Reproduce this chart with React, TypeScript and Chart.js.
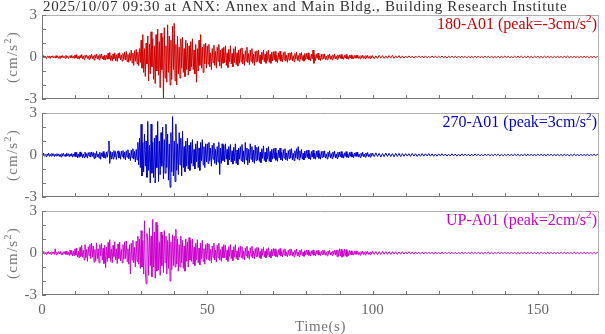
import React, { useEffect, useRef } from "react";
import { Chart, registerables } from "chart.js";
Chart.register(...registerables);

// sampling: first 100 s at 0.25 s, remainder at 0.5 s
const DT_MAIN = 0.25;
const T_TAIL = 100;
const DT_TAIL = 0.5;
const X_MAX = 168.5;
const Y_MIN = -3;
const Y_MAX = 3;
const Y_TICK_LABELS = [-3, 0, 3];
const X_TICK_LABELS = [0, 50, 100, 150];
const TITLE = "2025/10/07 09:30 at ANX: Annex and Main Bldg., Building Research Institute";
const X_TITLE = "Time(s)";
const CHANNELS = ["180-A01", "270-A01", "UP-A01"];
const PEAKS = [-3, 3, 2];
const COLORS = ["rgb(210,0,0)", "rgb(0,0,205)", "rgb(205,0,205)"];

// 180-A01, 0–100 s
const ACC_180_MAIN = [
  0.04,-0.07,0.1,-0.03,0.06,-0.09,0.02,0.07,-0.05,0.08,-0.1,0.05,-0.02,0.09,-0.06,0.03,-0.08,0.1,-0.04,0.06,
  -0.09,0.05,-0.12,0.08,-0.03,0.11,-0.07,0.04,-0.1,0.12,-0.05,0.07,-0.11,0.03,0.09,-0.06,0.12,-0.08,0.05,-0.1,
  0.14,-0.08,0.17,-0.12,0.06,-0.16,0.1,-0.05,0.18,-0.13,0.08,-0.17,0.12,-0.04,0.15,-0.1,0.07,-0.18,0.13,-0.09,
  0.2,-0.12,0.08,-0.22,0.16,-0.07,0.21,-0.15,0.1,-0.2,0.18,-0.09,0.22,-0.14,0.06,-0.19,0.15,-0.22,0.11,-0.16,
  0.28,-0.15,0.32,-0.24,0.1,-0.3,0.22,-0.12,0.3,-0.27,0.16,-0.32,0.25,-0.08,0.31,-0.2,0.14,-0.29,0.26,-0.18,
  0.35,-0.22,0.4,-0.33,0.18,-0.38,0.3,-0.25,0.5,-0.42,0.28,-0.6,0.45,-0.3,0.55,-0.48,0.35,-0.62,0.6,-0.4,
  1.2,-0.8,1.6,-1.1,0.6,-1.4,1.0,-0.5,1.5,-1.7,0.9,-1.2,1.8,-0.7,1.3,-1.6,0.8,-1.9,1.6,-1.0,
  2.0,-1.3,1.1,-2.2,1.7,-0.9,1.4,-3.0,2.1,-1.5,0.8,-1.8,2.3,-1.1,1.5,-2.0,1.2,-1.6,2.2,-0.9,
  2.4,-1.7,0.9,-2.0,1.5,-1.2,0.7,-1.5,1.3,-0.8,1.4,-1.1,0.6,-1.4,1.2,-0.9,1.0,-1.3,0.8,-1.0,
  1.1,-0.7,1.3,-0.9,0.5,-1.2,0.9,-1.8,0.6,-1.0,1.2,-0.6,1.6,-0.8,0.7,-1.1,0.9,-0.5,1.0,-0.8,
  0.8,-0.5,0.9,-0.7,0.3,-0.9,0.6,-0.4,0.85,-0.6,0.4,-0.8,0.7,-0.3,0.9,-0.65,0.5,-0.8,0.6,-0.45,
  0.7,-0.4,0.8,-0.6,0.3,-0.75,0.55,-0.35,0.8,-0.5,0.25,-0.7,0.6,-0.4,0.75,-0.55,0.3,-0.65,0.5,-0.45,
  0.6,-0.35,0.65,-0.5,0.2,-0.6,0.45,-0.3,0.7,-0.4,0.25,-0.55,0.5,-0.3,0.6,-0.45,0.2,-0.6,0.4,-0.35,
  0.45,-0.3,0.5,-0.4,0.15,-0.48,0.35,-0.2,0.5,-0.35,0.2,-0.45,0.4,-0.25,0.5,-0.38,0.18,-0.45,0.35,-0.28,
  0.38,-0.2,0.4,-0.32,0.12,-0.4,0.3,-0.18,0.42,-0.3,0.15,-0.36,0.32,-0.2,0.38,-0.3,0.12,-0.38,0.28,-0.22,
  0.3,-0.18,0.35,-0.28,0.1,-0.33,0.25,-0.15,0.34,-0.25,0.12,-0.3,0.28,-0.16,0.32,-0.24,0.1,-0.3,0.25,-0.18,
  0.25,-0.15,0.3,-0.22,0.1,-0.28,0.2,-0.12,0.5,-0.45,0.15,-0.25,0.22,-0.1,0.28,-0.2,0.08,-0.25,0.2,-0.15,
  0.2,-0.12,0.22,-0.18,0.07,-0.2,0.15,-0.1,0.22,-0.16,0.08,-0.2,0.16,-0.1,0.2,-0.14,0.06,-0.18,0.15,-0.1,
  0.16,-0.1,0.18,-0.14,0.05,-0.17,0.12,-0.08,0.18,-0.12,0.06,-0.16,0.12,-0.07,0.15,-0.12,0.05,-0.14,0.11,-0.09,
  0.12,-0.08,0.14,-0.1,0.04,-0.13,0.1,-0.06,0.13,-0.1,0.05,-0.12,0.1,-0.06,0.12,-0.09,0.04,-0.11,0.09,-0.07,
];
// 180-A01, 100–169.5 s
const ACC_180_TAIL = [
  0.1,-0.12,0.08,-0.1,0.12,-0.08,0.1,-0.1,0.08,-0.09,0.1,-0.08,0.12,-0.1,0.08,-0.07,0.1,-0.09,0.08,-0.08,
  0.07,-0.06,0.08,-0.07,0.06,-0.08,0.07,-0.05,0.08,-0.06,0.06,-0.07,0.08,-0.06,0.05,-0.07,0.07,-0.06,0.06,-0.05,
  0.06,-0.05,0.07,-0.06,0.05,-0.07,0.06,-0.05,0.07,-0.06,0.05,-0.06,0.07,-0.05,0.06,-0.06,0.05,-0.07,0.06,-0.05,
  0.05,-0.06,0.06,-0.05,0.07,-0.05,0.05,-0.06,0.06,-0.04,0.05,-0.06,0.06,-0.05,0.04,-0.06,0.06,-0.05,0.05,-0.04,
  0.06,-0.04,0.05,-0.06,0.04,-0.05,0.06,-0.05,0.05,-0.04,0.06,-0.05,0.04,-0.05,0.05,-0.06,0.04,-0.05,0.06,-0.04,
  0.05,-0.05,0.04,-0.05,0.06,-0.04,0.05,-0.05,0.04,-0.06,0.05,-0.04,0.05,-0.05,0.04,-0.05,0.05,-0.04,0.06,-0.05,
  0.04,-0.05,0.05,-0.04,0.05,-0.05,0.04,-0.05,0.05,-0.04,0.05,-0.05,0.04,-0.04,0.05,-0.05,0.04,-0.05,0.05,-0.04,
];

// 270-A01, 0–100 s
const ACC_270_MAIN = [
  0.1,-0.06,0.12,-0.09,0.04,-0.11,0.08,-0.03,0.12,-0.1,0.05,-0.08,0.11,-0.04,0.09,-0.12,0.06,-0.07,0.1,-0.05,
  0.08,-0.11,0.05,-0.14,0.1,-0.06,0.12,-0.09,0.03,-0.1,0.13,-0.07,0.09,-0.12,0.05,-0.08,0.11,-0.15,0.07,-0.1,
  0.2,-0.12,0.18,-0.2,0.08,-0.17,0.22,-0.1,0.15,-0.2,0.06,-0.18,0.2,-0.13,0.1,-0.22,0.17,-0.08,0.2,-0.15,
  0.22,-0.1,0.18,-0.25,0.12,-0.2,0.26,-0.14,0.08,-0.22,0.2,-0.3,0.15,-0.12,0.25,-0.2,0.1,-0.24,0.22,-0.16,
  0.3,1.0,-0.6,0.25,-0.3,0.2,-0.28,0.32,-0.15,0.25,-0.32,0.12,0.3,-0.22,0.18,-0.3,0.28,-0.1,0.32,-0.25,
  0.2,-0.35,0.3,-0.15,0.38,-0.28,0.12,-0.4,0.35,-0.2,0.45,-0.3,0.25,-0.5,0.4,-0.35,0.9,-0.7,1.2,-0.9,
  2.2,-1.5,0.9,-1.2,1.5,-0.8,1.0,-1.6,2.4,-1.1,0.7,-2.0,2.2,-1.3,0.9,-1.6,1.2,-2.0,1.4,-0.9,
  2.4,-1.9,1.0,-1.4,1.6,-0.8,2.0,-1.7,1.1,-1.3,2.2,-0.9,1.5,-1.8,0.8,-2.3,1.6,-1.2,2.75,-1.5,
  1.0,-1.9,2.2,-1.1,0.8,-1.4,1.6,-0.7,1.2,-1.5,1.7,-0.9,0.6,-1.2,1.0,-0.8,1.2,-1.0,0.7,-1.1,
  0.9,-0.6,1.1,-0.8,0.4,-1.0,0.8,-0.5,1.0,-0.9,0.5,-1.1,0.9,-0.4,1.1,-0.7,0.6,-0.9,0.8,-0.5,
  0.8,-0.6,0.9,-0.4,0.5,-0.8,0.7,-0.3,0.85,-0.6,0.4,-0.7,0.6,-0.5,0.9,-1.4,0.5,-0.6,0.8,-0.4,
  0.7,-0.5,0.8,-0.3,0.4,-0.7,0.6,-0.35,0.75,-0.5,0.3,-0.65,0.55,-0.4,0.8,-0.6,0.35,-0.7,0.5,-0.3,
  0.6,-0.4,0.75,-0.5,0.3,-0.65,0.9,-0.35,0.5,-0.7,0.4,-0.55,0.8,-0.3,0.6,-0.5,0.35,-0.6,0.7,-0.4,
  0.55,-0.35,0.6,-0.45,0.2,-0.55,0.45,-0.25,0.65,-0.4,0.2,-0.5,0.5,-0.3,0.6,-0.45,0.25,-0.5,0.4,-0.3,
  0.45,-0.25,0.5,-0.38,0.15,-0.45,0.35,-0.2,0.5,-0.35,0.18,-0.42,0.38,-0.22,0.45,-0.35,0.15,-0.4,0.32,-0.25,
  0.4,-0.22,0.45,-0.35,0.12,-0.4,0.3,-0.2,0.45,-0.3,0.6,-0.35,0.3,-0.18,0.4,-0.3,0.12,-0.35,0.28,-0.2,
  0.32,-0.18,0.35,-0.28,0.1,-0.33,0.25,-0.15,0.34,-0.25,0.12,-0.3,0.28,-0.16,0.32,-0.24,0.1,-0.3,0.25,-0.18,
  0.28,-0.15,0.3,-0.22,0.08,-0.28,0.2,-0.12,0.3,-0.2,0.1,-0.26,0.22,-0.12,0.28,-0.2,0.08,-0.25,0.2,-0.14,
  0.22,-0.12,0.25,-0.18,0.06,-0.22,0.16,-0.1,0.24,-0.16,0.08,-0.2,0.18,-0.1,0.22,-0.15,0.06,-0.2,0.15,-0.1,
  0.18,-0.1,0.2,-0.15,0.05,-0.18,0.13,-0.08,0.2,-0.12,0.06,-0.16,0.14,-0.08,0.18,-0.12,0.05,-0.15,0.12,-0.08,
];
// 270-A01, 100–169.5 s
const ACC_270_TAIL = [
  0.14,-0.12,0.15,-0.1,0.12,-0.14,0.1,-0.12,0.14,-0.1,0.12,-0.11,0.1,-0.13,0.12,-0.1,0.11,-0.12,0.1,-0.09,
  0.1,-0.08,0.09,-0.1,0.11,-0.08,0.09,-0.1,0.08,-0.09,0.1,-0.08,0.09,-0.07,0.1,-0.08,0.08,-0.09,0.07,-0.08,
  0.08,-0.07,0.09,-0.06,0.07,-0.08,0.06,-0.07,0.08,-0.06,0.07,-0.08,0.06,-0.07,0.08,-0.06,0.07,-0.06,0.06,-0.07,
  0.06,-0.07,0.07,-0.05,0.06,-0.06,0.05,-0.07,0.06,-0.05,0.07,-0.06,0.05,-0.06,0.06,-0.05,0.06,-0.06,0.05,-0.05,
  0.05,-0.06,0.06,-0.05,0.05,-0.05,0.06,-0.04,0.05,-0.06,0.04,-0.05,0.06,-0.05,0.05,-0.04,0.05,-0.05,0.04,-0.05,
  0.05,-0.04,0.05,-0.05,0.04,-0.05,0.05,-0.04,0.05,-0.05,0.04,-0.04,0.05,-0.05,0.04,-0.05,0.05,-0.04,0.04,-0.05,
  0.04,-0.05,0.05,-0.04,0.04,-0.05,0.05,-0.04,0.04,-0.04,0.05,-0.05,0.04,-0.04,0.05,-0.04,0.04,-0.05,0.04,-0.04,
];

// UP-A01, 0–100 s
const ACC_UP_MAIN = [
  0.08,-0.05,0.1,-0.09,0.03,-0.1,0.07,-0.04,0.1,-0.08,0.05,-0.1,0.09,-0.03,0.07,-0.1,0.3,-0.12,0.06,-0.08,
  0.1,-0.06,0.12,-0.1,0.04,-0.12,0.09,-0.05,0.12,-0.1,0.15,-0.12,0.06,-0.18,0.2,-0.1,0.18,-0.22,0.12,-0.2,
  0.3,-0.15,0.35,-0.28,0.12,-0.35,0.4,-0.25,0.55,-0.3,0.2,-0.5,0.6,-0.35,0.25,-0.6,0.45,-0.2,0.62,-0.4,
  0.7,-0.3,0.5,-0.65,0.25,-0.55,0.72,-0.4,0.3,-0.7,0.6,-0.2,0.68,-0.5,0.35,-0.75,0.55,-1.05,0.4,-0.6,
  0.75,-0.35,0.95,-0.6,0.3,-0.7,0.55,-0.25,0.8,-0.5,0.3,-0.75,0.65,-0.4,0.78,-0.55,0.25,-0.7,0.6,-0.45,
  0.8,-0.4,0.85,-0.6,0.3,-0.8,0.6,-1.5,0.7,-0.5,0.9,-0.7,0.4,-1.0,0.85,-0.6,1.2,-0.8,1.0,-1.1,
  1.6,-1.0,0.9,-1.5,2.3,-1.2,-2.2,1.4,0.8,-1.6,1.8,-0.9,1.2,-1.7,2.4,-1.0,1.5,-1.8,2.2,-1.3,
  2.0,-1.2,0.8,-1.6,1.5,-0.9,1.3,-1.4,1.6,-0.7,1.2,-1.5,0.9,-1.1,1.4,-2.0,0.8,-1.2,1.3,-0.9,
  1.2,-1.0,1.7,-0.8,1.0,-1.3,0.6,-1.0,1.2,-0.7,0.9,-1.1,0.5,-1.3,1.0,-0.6,0.8,-1.0,1.1,-0.5,
  0.9,-0.6,1.0,-0.8,0.4,-0.9,0.7,-0.5,0.95,-0.7,0.35,-0.85,0.7,-0.4,0.9,-0.6,0.3,-0.8,0.6,-0.45,
  0.7,-0.45,0.65,-0.55,0.25,-0.7,0.5,-0.3,0.7,-0.5,0.2,-0.65,0.55,-0.35,0.7,-0.5,0.25,-0.6,0.45,-0.35,
  0.6,-0.35,0.55,-0.5,0.2,-0.6,0.45,-0.25,0.6,-0.4,0.2,-0.55,0.45,-0.3,0.6,-0.4,0.15,-0.5,0.4,-0.3,
  0.5,-0.3,0.45,-0.4,0.15,-0.5,0.35,-0.2,0.5,-0.35,0.15,-0.45,0.38,-0.22,0.48,-0.35,0.12,-0.42,0.32,-0.25,
  0.4,-0.25,0.38,-0.33,0.12,-0.4,0.3,-0.18,0.4,-0.28,0.12,-0.36,0.3,-0.18,0.38,-0.28,0.1,-0.35,0.26,-0.2,
  0.32,-0.2,0.3,-0.26,0.1,-0.3,0.24,-0.14,0.32,-0.22,0.1,-0.28,0.24,-0.14,0.3,-0.22,0.08,-0.27,0.2,-0.16,
  0.28,-0.16,0.26,-0.22,0.08,-0.27,0.2,-0.12,0.28,-0.2,0.08,-0.25,0.2,-0.12,0.26,-0.2,0.07,-0.24,0.18,-0.14,
  0.22,-0.13,0.2,-0.18,0.07,-0.22,0.16,-0.1,0.22,-0.16,0.07,-0.2,0.16,-0.1,0.2,-0.15,0.06,-0.18,0.14,-0.1,
  0.2,-0.12,0.18,-0.16,0.06,-0.2,0.15,-0.09,0.2,-0.14,0.06,-0.18,0.14,-0.09,0.2,-0.15,0.22,-0.26,0.2,-0.24,
  0.3,-0.22,0.26,-0.3,0.15,-0.24,0.28,-0.2,0.24,-0.26,0.12,-0.2,0.18,-0.12,0.16,-0.14,0.06,-0.15,0.12,-0.1,
  0.15,-0.09,0.14,-0.12,0.05,-0.15,0.1,-0.07,0.14,-0.11,0.05,-0.13,0.1,-0.07,0.13,-0.1,0.04,-0.12,0.09,-0.07,
];
// UP-A01, 100–169.5 s
const ACC_UP_TAIL = [
  0.12,-0.1,0.11,-0.12,0.1,-0.11,0.12,-0.09,0.1,-0.1,0.09,-0.11,0.1,-0.08,0.09,-0.1,0.08,-0.09,0.1,-0.08,
  0.08,-0.07,0.09,-0.08,0.07,-0.08,0.08,-0.06,0.07,-0.08,0.06,-0.07,0.08,-0.06,0.07,-0.07,0.06,-0.08,0.07,-0.06,
  0.06,-0.07,0.07,-0.06,0.06,-0.06,0.07,-0.05,0.06,-0.07,0.05,-0.06,0.06,-0.05,0.07,-0.06,0.05,-0.06,0.06,-0.05,
  0.06,-0.05,0.05,-0.06,0.06,-0.05,0.05,-0.06,0.05,-0.04,0.06,-0.05,0.05,-0.06,0.04,-0.05,0.06,-0.05,0.05,-0.04,
  0.05,-0.05,0.04,-0.05,0.05,-0.04,0.05,-0.05,0.04,-0.05,0.05,-0.04,0.05,-0.05,0.04,-0.04,0.05,-0.05,0.04,-0.05,
  0.04,-0.05,0.05,-0.04,0.04,-0.05,0.05,-0.04,0.04,-0.05,0.04,-0.04,0.05,-0.04,0.04,-0.05,0.05,-0.04,0.04,-0.04,
  0.04,-0.04,0.05,-0.04,0.04,-0.05,0.04,-0.04,0.05,-0.04,0.04,-0.04,0.04,-0.05,0.04,-0.04,0.05,-0.04,0.04,-0.04,
];

const MAIN = [ACC_180_MAIN, ACC_270_MAIN, ACC_UP_MAIN];
const TAIL = [ACC_180_TAIL, ACC_270_TAIL, ACC_UP_TAIL];

const W = 605;
const H = 334;
const SERIF = '"Liberation Serif", "Times New Roman", serif';
const PANELS = [
  { top: 15, bottom: 99 },
  { top: 113, bottom: 197 },
  { top: 211, bottom: 295 },
];

function drawSup(ctx: CanvasRenderingContext2D, base: string, sup: string, tail: string, x: number, y: number, size: number, align: string) {
  ctx.font = `${size}px ${SERIF}`;
  const w1 = ctx.measureText(base).width;
  const w3 = ctx.measureText(tail).width;
  ctx.font = `${size * 0.7}px ${SERIF}`;
  const w2 = ctx.measureText(sup).width;
  const total = w1 + w2 + w3;
  const sx = align === "right" ? x - total : align === "center" ? x - total / 2 : x;
  ctx.textAlign = "left";
  ctx.textBaseline = "alphabetic";
  ctx.font = `${size}px ${SERIF}`;
  ctx.fillText(base, sx, y);
  ctx.font = `${size * 0.7}px ${SERIF}`;
  ctx.fillText(sup, sx + w1, y - size * 0.42);
  ctx.font = `${size}px ${SERIF}`;
  ctx.fillText(tail, sx + w1 + w2, y);
}

function makePlugin(i: number) {
  return {
    id: "frame" + i,
    afterDraw(chart: any) {
      const { ctx, chartArea: a, scales } = chart;
      ctx.save();
      ctx.lineWidth = 1;
      ctx.strokeStyle = "#b0b0b0";
      ctx.beginPath();
      ctx.moveTo(a.left, a.top + 0.5);
      ctx.lineTo(a.right, a.top + 0.5);
      ctx.moveTo(a.right - 0.5, a.top);
      ctx.lineTo(a.right - 0.5, a.bottom);
      ctx.stroke();
      ctx.strokeStyle = "#777";
      ctx.beginPath();
      ctx.moveTo(a.left + 0.5, a.top);
      ctx.lineTo(a.left + 0.5, a.bottom);
      ctx.moveTo(a.left, a.bottom - 0.5);
      ctx.lineTo(a.right, a.bottom - 0.5);
      for (const t of scales.y.ticks) {
        const y = Math.round(scales.y.getPixelForValue(t.value)) + 0.5;
        ctx.moveTo(a.left, y);
        ctx.lineTo(a.left + 4, y);
      }
      for (const t of scales.x.ticks) {
        if (t.value % 10 !== 0) continue;
        const x = Math.round(scales.x.getPixelForValue(t.value)) + 0.5;
        ctx.moveTo(x, a.bottom);
        ctx.lineTo(x, a.bottom - 4);
      }
      ctx.stroke();

      // channel label
      ctx.fillStyle = COLORS[i];
      drawSup(ctx, `${CHANNELS[i]} (peak=${PEAKS[i]}cm/s`, "2", ")", a.right - 2, a.top + 14, 16, "right");

      // y title
      ctx.fillStyle = "#777";
      ctx.save();
      ctx.translate(12, (a.top + a.bottom) / 2);
      ctx.rotate(-Math.PI / 2);
      (ctx as any).letterSpacing = "1.2px";
      drawSup(ctx, "(cm/s", "2", ")", 0, 5, 15, "center");
      ctx.restore();

      if (i === 0) {
        ctx.fillStyle = "#333";
        ctx.font = `15px ${SERIF}`;
        (ctx as any).letterSpacing = "0.68px";
        ctx.textAlign = "left";
        ctx.textBaseline = "alphabetic";
        ctx.fillText(TITLE, 43, 11);
        (ctx as any).letterSpacing = "0px";
      }
      if (i === 2) {
        ctx.fillStyle = "#777";
        ctx.font = `15px ${SERIF}`;
        (ctx as any).letterSpacing = "0.6px";
        ctx.textAlign = "center";
        ctx.textBaseline = "alphabetic";
        ctx.fillText(X_TITLE, (a.left + a.right) / 2, 331);
        (ctx as any).letterSpacing = "0px";
      }
      ctx.restore();
    },
  };
}

function buildPoints(i: number) {
  const pts = MAIN[i].map((v, k) => ({ x: k * DT_MAIN, y: v }));
  TAIL[i].forEach((v, k) => pts.push({ x: T_TAIL + k * DT_TAIL, y: v }));
  return pts;
}

export default function App() {
  const r0 = useRef<HTMLCanvasElement>(null);
  const r1 = useRef<HTMLCanvasElement>(null);
  const r2 = useRef<HTMLCanvasElement>(null);

  useEffect(() => {
    document.body.style.margin = "0";
    const refs = [r0, r1, r2];
    const charts = refs.map((ref, i) => {
      const P = PANELS[i];
      const tickFont = { family: SERIF, size: 15, lineHeight: 1 };
      return new Chart(ref.current as HTMLCanvasElement, {
        type: "line",
        data: {
          datasets: [
            {
              data: buildPoints(i),
              borderColor: COLORS[i],
              borderWidth: 1,
              pointRadius: 0,
              tension: 0,
              fill: false,
            },
          ],
        },
        options: {
          responsive: false,
          animation: false,
          events: [],
          layout: { padding: { top: P.top, left: 0, right: 6, bottom: 0 } },
          plugins: {
            legend: { display: false },
            tooltip: { enabled: false },
            title: { display: false },
          },
          scales: {
            x: {
              type: "linear",
              min: 0,
              max: X_MAX,
              afterFit: (s: any) => {
                s.height = H - P.bottom;
              },
              ticks: {
                display: i === 2,
                stepSize: 10,
                autoSkip: false,
                maxRotation: 0,
                includeBounds: false,
                padding: 8,
                color: "#666",
                font: tickFont,
                callback: (v: any) => (X_TICK_LABELS.includes(v) ? String(v) : ""),
              },
              grid: { display: false, drawTicks: false },
              border: { display: false },
            },
            y: {
              type: "linear",
              min: Y_MIN,
              max: Y_MAX,
              afterFit: (s: any) => {
                s.width = 42;
              },
              ticks: {
                stepSize: 1,
                autoSkip: false,
                padding: 5,
                color: "#666",
                font: tickFont,
                callback: (v: any) => (Y_TICK_LABELS.includes(v) ? String(v) : ""),
              },
              grid: { display: false, drawTicks: false },
              border: { display: false },
            },
          },
        },
        plugins: [makePlugin(i)],
      } as any);
    });
    return () => charts.forEach((c) => c.destroy());
  }, []);

  const st: React.CSSProperties = { position: "absolute", left: 0, top: 0 };
  return (
    <div style={{ position: "relative", width: W, height: H }}>
      <canvas ref={r0} width={W} height={H} style={st} />
      <canvas ref={r1} width={W} height={H} style={st} />
      <canvas ref={r2} width={W} height={H} style={st} />
    </div>
  );
}
